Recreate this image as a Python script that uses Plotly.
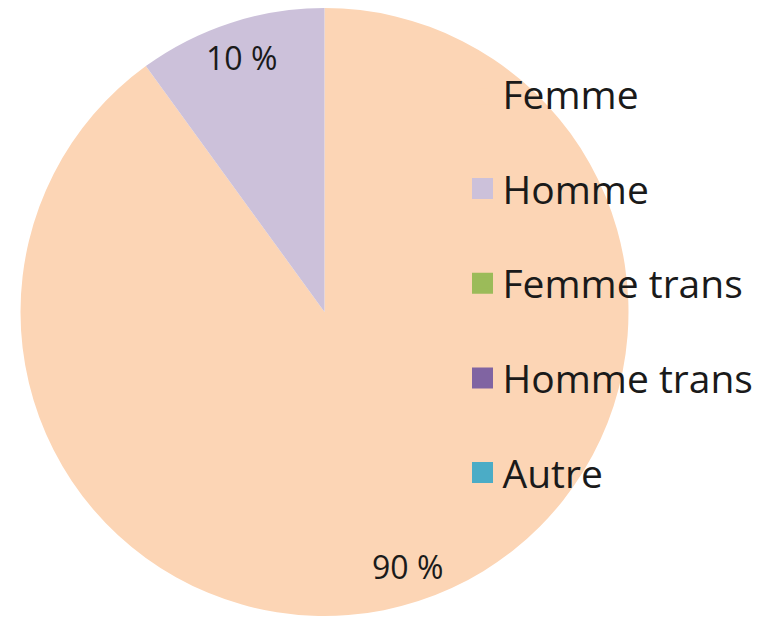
import math
import plotly.graph_objects as go

categories = ["Femme", "Homme", "Femme trans", "Homme trans", "Autre"]
values = [90, 10, 0, 0, 0]
colors = ["#FCD5B5", "#CCC1DA", "#9BBB59", "#8064A2", "#4BACC6"]

W, H = 760, 620
CX, CY, R = 316.5, 304, 304  # pie centre/radius in px (figure coords)

fig = go.Figure()
fig.add_trace(go.Pie(
    labels=categories, values=values, sort=False, direction="clockwise", rotation=0,
    marker=dict(colors=colors, line=dict(width=0)),
    textinfo="none", hoverinfo="label+percent", showlegend=False,
    domain=dict(x=[(CX - R) / W, (CX + R) / W], y=[max(0, (H - CY - R) / H), min(1, (H - CY + R) / H)]),
))

# legend entries
for i, (c, col) in enumerate(zip(categories, colors)):
    fig.add_trace(go.Scatter(
        x=[None], y=[None], mode="markers", name=c, legendgroup=f"g{i}",
        marker=dict(symbol="square", size=22, color=col, line=dict(width=6, color=col)),
        hoverinfo="skip",
    ))

# percentage labels
total = sum(values)
cum = 0
for v in values:
    if v > 0:
        mid = (cum + v / 2) / total * 2 * math.pi
        px = CX + 0.88 * R * math.sin(mid)
        py = CY - 0.88 * R * math.cos(mid)
        fig.add_annotation(
            x=px / W, y=1 - py / H, xref="paper", yref="paper",
            xanchor="center", yanchor="middle",
            text=f"{v / total * 100:.0f} %", showarrow=False,
            font=dict(size=32, color="#1a1a1a", family="Open Sans, sans-serif"),
        )
    cum += v

fig.update_layout(
    width=W, height=H, margin=dict(l=0, r=0, t=0, b=0),
    paper_bgcolor="white", plot_bgcolor="rgba(0,0,0,0)",
    xaxis=dict(visible=False), yaxis=dict(visible=False),
    showlegend=True,
    legend=dict(
        x=0.598, y=0.913, xanchor="left", yanchor="top",
        bgcolor="rgba(0,0,0,0)", tracegroupgap=41,
        font=dict(size=39, color="#1a1a1a", family="Open Sans, sans-serif"),
    ),
    font=dict(family="Open Sans, sans-serif"),
)

fig.write_html("out.html")
